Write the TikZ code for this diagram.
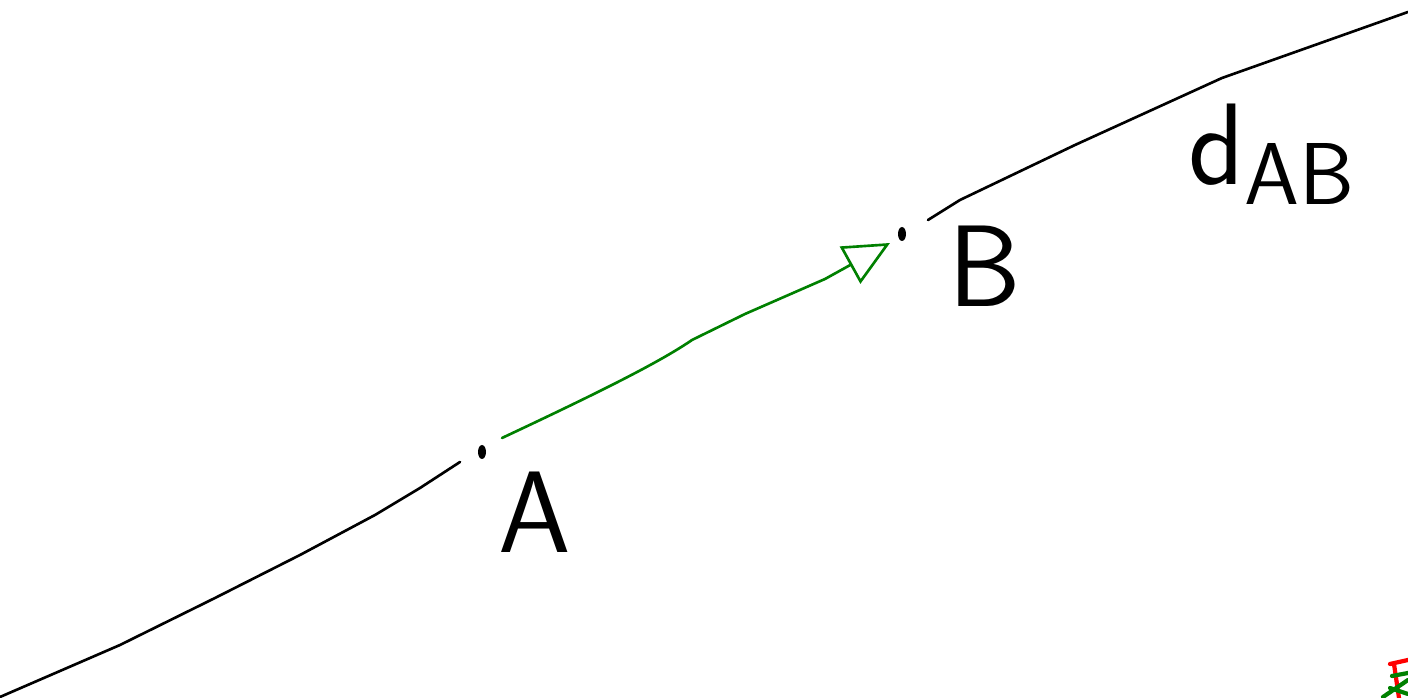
\documentclass[tikz,border=0pt]{standalone}
\usepackage{amsmath}
\usepackage[dvipsnames]{xcolor}
\usetikzlibrary{arrows.meta}
\definecolor{penGreen}{RGB}{0,128,0}

\begin{document}
\begin{tikzpicture}[x=0.01cm,y=-0.01cm,
	pen/.style={line width=0.75pt,line cap=round,line join=round},
	hand/.style={font=\sffamily\fontsize{33}{33}\selectfont}]
	\useasboundingbox (0,0) rectangle (1408,698);
	% line through A and B
	\draw[pen] (0,697) -- (120,645) -- (215,598) -- (300,555) -- (375,515) -- (420,488) -- (460,462);
	\draw[pen] (928,220) -- (960,200) -- (1075,145) -- (1222,78) -- (1408,12);
	% points
	\coordinate (ptA) at (482,452);
	\coordinate (ptB) at (902,234);
	\fill (ptA) ellipse (4 and 7);
	\fill (ptB) ellipse (4 and 7);
	% vector AB
	\draw[pen,penGreen,-{Triangle[open,length=13pt,width=12pt]}]
		([shift={(20,-14)}]ptA) .. controls (600,392) and (660,362) .. (692,340)
		-- (745,314) -- (825,279) -- ([shift={(-12,9)}]ptB);
	% labels
	\node[hand] (labA) at (535,512) {A};
	\node[hand] (labB) at (985,266) {B};
	\node[hand,anchor=base west,inner sep=0pt] (labD) at (1188,185) {d\raisebox{-0.4ex}{\fontsize{25}{25}\selectfont AB}};
	% axes icon (corner)
	\draw[pen,red,line width=1.2pt] (1390,664) -- (1408,660);
	\draw[pen,red,line width=1.2pt] (1394,664) -- (1399,698);
	\draw[pen,penGreen,line width=1.2pt] (1392,676) -- (1408,673);
	\draw[pen,penGreen,line width=1.2pt] (1383,697) -- (1408,680);
	\draw[pen,penGreen,line width=1.2pt] (1390,688) -- (1408,694);
\end{tikzpicture}
\end{document}
